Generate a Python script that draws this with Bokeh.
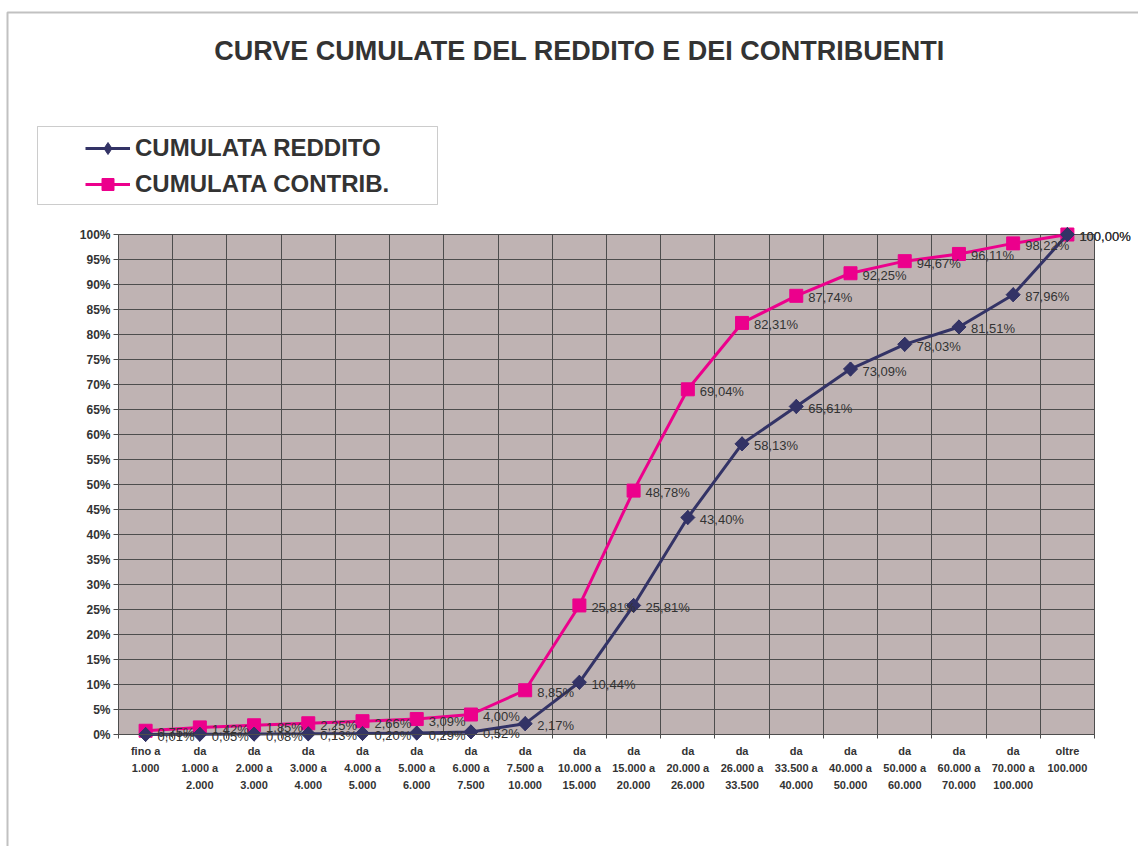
import numpy as np
from bokeh.plotting import figure
from bokeh.models import (Range1d, FixedTicker, ColumnDataSource, LabelSet, Label,
                          Legend, LegendItem, BoxAnnotation)
from bokeh.core.properties import value
from bokeh.embed import file_html
from bokeh.resources import INLINE

# ---------------- data ----------------
categories = [
    "fino a\n1.000", "da\n1.000 a\n2.000", "da\n2.000 a\n3.000", "da\n3.000 a\n4.000",
    "da\n4.000 a\n5.000", "da\n5.000 a\n6.000", "da\n6.000 a\n7.500", "da\n7.500 a\n10.000",
    "da\n10.000 a\n15.000", "da\n15.000 a\n20.000", "da\n20.000 a\n26.000", "da\n26.000 a\n33.500",
    "da\n33.500 a\n40.000", "da\n40.000 a\n50.000", "da\n50.000 a\n60.000", "da\n60.000 a\n70.000",
    "da\n70.000 a\n100.000", "oltre\n100.000",
]
cumulata_reddito = [0.01, 0.05, 0.08, 0.13, 0.20, 0.29, 0.52, 2.17, 10.44, 25.81,
                    43.40, 58.13, 65.61, 73.09, 78.03, 81.51, 87.96, 100.00]
cumulata_contrib = [0.75, 1.42, 1.85, 2.25, 2.66, 3.09, 4.00, 8.85, 25.81, 48.78,
                    69.04, 82.31, 87.74, 92.25, 94.67, 96.11, 98.22, 100.00]
y_ticks = list(range(0, 101, 5))
title_text = "CURVE CUMULATE DEL REDDITO E DEI CONTRIBUENTI"
series_names = ["CUMULATA REDDITO", "CUMULATA CONTRIB."]

# ---------------- style / layout ----------------
NAVY = "#333366"
PINK = "#EC008C"
TXT = "#333333"
GRID = "#4d4d4d"
FONT = "Liberation Sans"

W, H = 1138, 846
# plot area in pixels
PL, PR, PT, PB = 118, 1094, 234, 734

n = len(categories)
YMAX = 100
pxu = (PR - PL) / n
pyu = (PB - PT) / YMAX

def px_to_x(px):
    return (px - PL) / pxu

def py_to_y(py):
    return (PB - py) / pyu

xc = np.arange(n) + 0.5

def fmt(v):
    return f"{v:.2f}".replace(".", ",") + "%"

src_r = ColumnDataSource(dict(x=xc, y=cumulata_reddito, lbl=[fmt(v) for v in cumulata_reddito]))
src_c = ColumnDataSource(dict(x=xc, y=cumulata_contrib, lbl=[fmt(v) for v in cumulata_contrib]))

p = figure(width=W, height=H,
           x_range=Range1d(px_to_x(0), px_to_x(W)), y_range=Range1d(py_to_y(H), py_to_y(0)),
           output_backend="svg", toolbar_location=None,
           min_border=0, min_border_left=0, min_border_right=0, min_border_top=0, min_border_bottom=0)
p.background_fill_color = "white"
p.border_fill_color = "white"
p.outline_line_color = None

# plot-area background
p.add_layout(BoxAnnotation(left=0, right=n, bottom=0, top=YMAX, level="image",
                           fill_color="#BFB3B3", fill_alpha=1, line_color=GRID, line_width=1))

# axes
p.yaxis.fixed_location = 0
p.yaxis.bounds = (0, YMAX)
p.yaxis.ticker = FixedTicker(ticks=y_ticks)
p.yaxis.major_label_overrides = {t: f"{t}%" for t in y_ticks}
p.yaxis.major_label_text_font = FONT
p.yaxis.major_label_text_font_style = "bold"
p.yaxis.major_label_text_font_size = "12px"
p.yaxis.major_label_text_color = TXT
p.yaxis.axis_line_color = GRID
p.yaxis.major_tick_line_color = GRID
p.yaxis.major_tick_out = 5
p.yaxis.major_tick_in = 0
p.yaxis.minor_tick_line_color = None
p.yaxis.major_label_standoff = 3

p.xaxis.fixed_location = 0
p.xaxis.bounds = (0, n)
p.xaxis.ticker = FixedTicker(ticks=list(xc), minor_ticks=list(range(n + 1)))
p.xaxis.major_label_overrides = {float(x): c for x, c in zip(xc, categories)}
p.xaxis.major_label_text_font = FONT
p.xaxis.major_label_text_font_style = "bold"
p.xaxis.major_label_text_font_size = "11px"
p.xaxis.major_label_text_color = TXT
p.xaxis.major_label_text_line_height = 1.45
p.xaxis.axis_line_color = GRID
p.xaxis.major_tick_line_color = None
p.xaxis.minor_tick_line_color = GRID
p.xaxis.minor_tick_out = 4
p.xaxis.minor_tick_in = 0
p.xaxis.major_label_standoff = 4

# grid
p.xgrid.ticker = FixedTicker(ticks=list(range(n + 1)))
p.ygrid.ticker = FixedTicker(ticks=y_ticks)
p.xgrid.bounds = (0, n)
p.ygrid.bounds = (0, YMAX)
p.xgrid.cross_bounds = (0, YMAX)
p.ygrid.cross_bounds = (0, n)
for g in (p.xgrid, p.ygrid):
    g.grid_line_color = GRID
    g.grid_line_width = 1
    g.grid_line_alpha = 1

# series
lc = p.line("x", "y", source=src_c, color=PINK, line_width=3)
sc = p.scatter("x", "y", source=src_c, marker="square", size=13, color=PINK)
lr = p.line("x", "y", source=src_r, color=NAVY, line_width=3)
# diamond used for the legend icon (legend icons ignore marker angle); fully covered by the rotated squares
sr_leg = p.scatter("x", "y", source=src_r, marker="diamond", size=14, color=NAVY)
sr = p.scatter("x", "y", source=src_r, marker="square", angle=np.pi / 4, size=10, color=NAVY)

for src in (src_c, src_r):
    p.add_layout(LabelSet(x="x", y="y", text="lbl", source=src, x_offset=12, y_offset=-2,
                          text_baseline="middle", text_align="left",
                          text_font=value(FONT), text_font_size="13px", text_color=TXT))

# outer chart border and legend box
p.add_layout(BoxAnnotation(left=px_to_x(7), right=px_to_x(W + 50), top=py_to_y(12), bottom=py_to_y(H + 50),
                           level="underlay", fill_alpha=0, line_color="#333333", line_width=2))
p.add_layout(BoxAnnotation(left=px_to_x(37), right=px_to_x(437), top=py_to_y(126), bottom=py_to_y(204),
                           level="underlay", fill_color="white", fill_alpha=1,
                           line_color="#555555", line_width=1))

legend = Legend(items=[LegendItem(label=series_names[0], renderers=[lr, sr_leg]),
                       LegendItem(label=series_names[1], renderers=[lc, sc])],
                location=(85, H - 199), glyph_width=45, glyph_height=30, label_standoff=5,
                spacing=6, padding=0, margin=0, border_line_alpha=0, background_fill_alpha=0,
                label_text_font=FONT, label_text_font_size="24px", label_text_font_style="bold",
                label_text_color=TXT)
p.add_layout(legend)

p.add_layout(Label(x=px_to_x(579), y=py_to_y(50), text=title_text, text_align="center",
                   text_baseline="middle", text_font=FONT, text_font_size="27px",
                   text_font_style="bold", text_color=TXT))

open("out.html", "w").write(file_html(p, INLINE))
